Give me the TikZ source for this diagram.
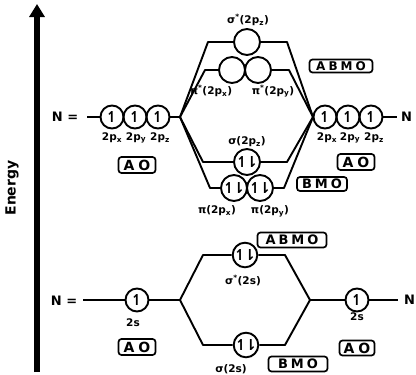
\documentclass[tikz,border=0pt]{standalone}
\usepackage{fontspec}
\setmainfont{DejaVu Sans}
\usetikzlibrary{arrows.meta}
\newcommand{\up}{↿}
\newcommand{\pair}{↿\kern-3pt⇂}
\begin{document}
\begin{tikzpicture}[x=1pt,y=-1pt,
  line/.style={line width=1.9pt, line join=round},
  orb/.style={circle, draw, line width=1.9pt, minimum size=23pt, inner sep=0pt, font=\fontsize{15}{15}\selectfont\bfseries},
  mo/.style={orb, minimum size=26pt},
  lbl/.style={font=\fontsize{10.5}{10.5}\selectfont\bfseries, inner sep=0pt},
  tag/.style={draw, rounded corners=3pt, line width=1.7pt, inner sep=0pt, font=\fontsize{13}{13}\selectfont\bfseries},
  atom/.style={font=\fontsize{13}{13}\selectfont\bfseries, inner sep=0pt},
]
\useasboundingbox (0,0) rectangle (416,375);

% Energy axis
\coordinate (ebot) at (37,372);
\coordinate (etop) at (37,4);
\draw[line width=5.5pt, -{Triangle[width=15pt,length=13pt]}] (ebot) -- (etop);
\node[rotate=90, font=\fontsize{14}{14}\selectfont\bfseries] (energy) at (12,188) {Energy};

% ---------- 2p region ----------
\node[atom] (NL1) at (65,117) {N =};
\coordinate (NL1e) at (87,117);
\node[orb] (a1) at (112,117) {\up};
\node[orb] (a2) at (135,117) {\up};
\node[orb] (a3) at (158,117) {\up};
\coordinate (JL) at (180,117);
\draw[line] (NL1e) -- (a1.west);
\draw[line] (a3.east) -- (JL);
\node[lbl] (la1) at (112,138) {2p\textsubscript{x}};
\node[lbl] (la2) at (136,138) {2p\textsubscript{y}};
\node[lbl] (la3) at (160,138) {2p\textsubscript{z}};
\node[tag, font=\fontsize{14}{14}\selectfont\bfseries, minimum width=37pt, minimum height=16pt] (AO1) at (137,165) {A\hspace{4pt}O};

\coordinate (JR) at (313,117);
\node[orb] (b1) at (325,117) {\up};
\node[orb] (b2) at (348,117) {\up};
\node[orb] (b3) at (371,117) {\up};
\coordinate (NR1e) at (397,117);
\node[atom, anchor=west] (NR1) at (401,117) {N};
\draw[line] (JR) -- (b1.west);
\draw[line] (b3.east) -- (NR1e);
\node[lbl] (lb1) at (327,138) {2p\textsubscript{x}};
\node[lbl] (lb2) at (350,138) {2p\textsubscript{y}};
\node[lbl] (lb3) at (374,138) {2p\textsubscript{z}};
\node[tag, font=\fontsize{14}{14}\selectfont\bfseries, minimum width=37pt, minimum height=16pt] (AO2) at (356,162) {A\hspace{4pt}O};

% sigma* 2pz
\coordinate (s1l) at (208,42);
\coordinate (s1r) at (287,42);
\node[mo] (s1) at (247,42) {};
\draw[line] (JL) -- (s1l) -- (s1.west);
\draw[line] (s1.east) -- (s1r) -- (JR);
\node[lbl] (ls1) at (248,20) {σ\textsuperscript{*}(2p\textsubscript{z})};

% pi* 2px 2py
\coordinate (p1l) at (205,70);
\coordinate (p1r) at (289,70);
\node[mo] (p1) at (232,70) {};
\node[mo] (p2) at (258,70) {};
\draw[line] (JL) -- (p1l) -- (p1.west);
\draw[line] (p2.east) -- (p1r) -- (JR);
\node[lbl] (lp1) at (211,91) {π\textsuperscript{*}(2p\textsubscript{x})};
\node[lbl] (lp2) at (273,91) {π\textsuperscript{*}(2p\textsubscript{y})};
\node[tag, font=\fontsize{12}{12}\selectfont\bfseries, minimum width=63pt, minimum height=13pt] (ABMO1) at (341,66) {A\hspace{3pt}B\hspace{3pt}M\hspace{3pt}O};

% sigma 2pz
\coordinate (s2l) at (203,162);
\coordinate (s2r) at (287,162);
\node[mo] (s2) at (247,162) {\pair};
\draw[line] (JL) -- (s2l) -- (s2.west);
\draw[line] (s2.east) -- (s2r) -- (JR);
\node[lbl] (ls2) at (247,142) {σ(2p\textsubscript{z})};

% pi 2px 2py
\coordinate (q1l) at (210,188);
\coordinate (q1r) at (284,188);
\node[mo] (q1) at (234,188) {\pair};
\node[mo] (q2) at (260,188) {\pair};
\draw[line] (JL) -- (q1l) -- (q1.west);
\draw[line] (q2.east) -- (q1r) -- (JR);
\node[lbl] (lq1) at (217,211) {π(2p\textsubscript{x})};
\node[lbl] (lq2) at (270,211) {π(2p\textsubscript{y})};
\node[tag, minimum width=50pt, minimum height=14pt] (BMO1) at (322,184) {B\hspace{3pt}M\hspace{3pt}O};

% ---------- 2s region ----------
\node[atom] (NL2) at (64,301) {N =};
\coordinate (NL2e) at (83,300);
\node[orb] (c1) at (137,300) {\up};
\coordinate (JL2) at (180,300);
\draw[line] (NL2e) -- (c1.west);
\draw[line] (c1.east) -- (JL2);
\node[lbl] (lc1) at (133,323) {2s};
\node[tag, font=\fontsize{14}{14}\selectfont\bfseries, minimum width=37pt, minimum height=16pt] (AO3) at (137,347) {A\hspace{4pt}O};

\coordinate (JR2) at (310,300);
\node[orb] (c2) at (357,300) {\up};
\coordinate (NR2e) at (398,300);
\node[atom, anchor=west] (NR2) at (404,300) {N};
\draw[line] (JR2) -- (c2.west);
\draw[line] (c2.east) -- (NR2e);
\node[lbl] (lc2) at (357,317) {2s};
\node[tag, font=\fontsize{14}{14}\selectfont\bfseries, minimum width=35pt, minimum height=15pt] (AO4) at (357,348) {A\hspace{4pt}O};

% sigma* 2s
\coordinate (t1l) at (203,255);
\coordinate (t1r) at (285,255);
\node[orb] (t1) at (245,255) {\pair};
\draw[line] (JL2) -- (t1l) -- (t1.west);
\draw[line] (t1.east) -- (t1r) -- (JR2);
\node[lbl] (lt1) at (243,280) {σ\textsuperscript{*}(2s)};
\node[tag, minimum width=69pt, minimum height=15pt] (ABMO2) at (292,240) {A\hspace{3pt}B\hspace{3pt}M\hspace{3pt}O};

% sigma 2s
\coordinate (t2l) at (203,345);
\coordinate (t2r) at (285,345);
\node[orb] (t2) at (246,345) {\pair};
\draw[line] (JL2) -- (t2l) -- (t2.west);
\draw[line] (t2.east) -- (t2r) -- (JR2);
\node[lbl] (lt2) at (231,369) {σ(2s)};
\node[tag, minimum width=59pt, minimum height=15pt] (BMO2) at (298,364) {B\hspace{3pt}M\hspace{3pt}O};
\end{tikzpicture}
\end{document}
